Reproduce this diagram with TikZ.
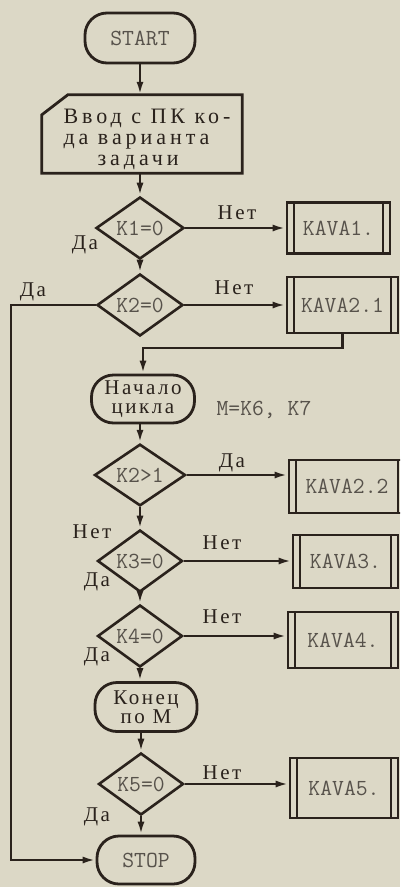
\documentclass[tikz,border=0pt]{standalone}
\usepackage{fontspec}
\newfontfamily\cyr[LetterSpace=12]{Liberation Serif}
\newfontfamily\cyrwide[LetterSpace=18]{Liberation Serif}
\usetikzlibrary{shapes.geometric,arrows.meta}
\definecolor{paper}{HTML}{DCD8C6}
\definecolor{ink}{HTML}{2A221C}
\definecolor{faint}{HTML}{57524B}
\tikzset{
  every node/.style={font=\ttfamily\fontsize{23}{24}\selectfont, text=ink},
  cyrtext/.style={font=\cyr\fontsize{21}{22}\selectfont},
  term/.style={draw=ink, line width=2.8pt, rounded corners=22pt, inner sep=0pt, align=center},
  decision/.style={diamond, draw=ink, line width=2.6pt, inner sep=0pt, text=faint},
  subproc/.style={draw=ink, line width=2.8pt, inner sep=0pt, text=faint,
    path picture={\draw[ink, line width=1.6pt]
      ([xshift=7pt]path picture bounding box.north west) -- ([xshift=7pt]path picture bounding box.south west)
      ([xshift=-7pt]path picture bounding box.north east) -- ([xshift=-7pt]path picture bounding box.south east);}},
  flow/.style={draw=ink, line width=2.5pt, -{Latex[length=13pt,width=7pt]}},
  lbl/.style={inner sep=0pt, cyrtext},
}
\begin{document}
\begin{tikzpicture}[x=1pt,y=-1pt]
\useasboundingbox (0,0) rectangle (400,887);
\clip (0,0) rectangle (400,887);
\fill[paper] (0,0) rectangle (400,887);

% terminals and input block
\node[term, minimum width=110pt, minimum height=50pt, text=faint] (start) at (140,38) {START};
\node[minimum width=200pt, minimum height=78pt, inner sep=0pt] (inp) at (142,134) {};
\draw[ink, line width=2.8pt] (inp.north east) -- (inp.south east) -- (inp.south west)
  -- ([yshift=-20pt]inp.north west) -- ([xshift=26pt]inp.north west) -- cycle;
\node[font=\cyrwide\fontsize{22}{21}\selectfont, align=left, inner sep=0pt] (inptext) at (147,139)
  {Ввод с ПК ко-\\да варианта\\\hspace*{34pt}задачи};

% decisions
\node[decision, minimum width=88pt, minimum height=50pt] (k1) at (140,228) {K1=0};
\node[decision, minimum width=86pt, minimum height=54pt] (k2) at (140,305) {K2=0};
\node[term, minimum width=103pt, minimum height=48pt, font=\cyr\fontsize{21}{19}\selectfont] (loop) at (143,399) {Начало\\цикла};
\node[decision, minimum width=91pt, minimum height=50pt] (k2g) at (140,475) {K2>1};
\node[decision, minimum width=85pt, minimum height=48pt] (k3) at (140,561) {K3=0};
\node[decision, minimum width=85pt, minimum height=48pt] (k4) at (140,636) {K4=0};
\node[term, minimum width=102pt, minimum height=49pt, font=\cyr\fontsize{21}{19}\selectfont] (loopend) at (146,707) {Конец\\по М};
\node[decision, minimum width=85pt, minimum height=48pt] (k5) at (141,784) {K5=0};
\node[term, minimum width=98pt, minimum height=48pt, text=faint] (stop) at (146,860) {STOP};

% subroutine blocks
\node[subproc, minimum width=103pt, minimum height=51pt] (kava1) at (338.5,228) {KAVA1.};
\node[subproc, minimum width=111pt, minimum height=56pt] (kava21) at (342.5,305) {KAVA2.1};
\node[subproc, minimum width=116pt, minimum height=53pt] (kava22) at (347,486.5) {KAVA2.2};
\node[subproc, minimum width=105pt, minimum height=53pt] (kava3) at (345.5,561.5) {KAVA3.};
\node[subproc, minimum width=110pt, minimum height=56pt] (kava4) at (343,640) {KAVA4.};
\node[subproc, minimum width=108pt, minimum height=60pt] (kava5) at (344,788) {KAVA5.};

% loop parameter note
\node[inner sep=0pt, text=faint] (mnote) at (264,410) {M=K6, K7};

% branch labels
\node[lbl] (n1) at (237,213) {Нет};
\node[lbl] (y1) at (85,245) {Да};
\node[lbl] (n2) at (234,288) {Нет};
\node[lbl] (y2) at (33,292) {Да};
\node[lbl] (y3) at (232,463) {Да};
\node[lbl] (n3) at (92,532) {Нет};
\node[lbl] (n4) at (222,543) {Нет};
\node[lbl] (y4) at (97,582) {Да};
\node[lbl] (n5) at (222,617) {Нет};
\node[lbl] (y5) at (97,657) {Да};
\node[lbl] (n6) at (222,773) {Нет};
\node[lbl] (y6) at (97,817) {Да};

% helper points
\coordinate (byTop) at (11,305);
\coordinate (byBot) at (11,860);
\coordinate (retL) at (143,348);

% main flow
\draw[flow] (start.south) -- (start.south |- inp.north);
\draw[flow] (k1.north |- inp.south) -- (k1.north);
\draw[flow] (k1.south) -- (k2.north);
\draw[flow] (kava21.south) -- (kava21.south |- retL) -- (retL) -- (loop.north);
\draw[flow] (k2g.north |- loop.south) -- (k2g.north);
\draw[flow] (k2g.south) -- (k3.north);
\draw[flow] (k3.south) -- (k4.north);
\draw[flow] (k4.south) -- (k4.south |- loopend.north);
\draw[flow] (k5.north |- loopend.south) -- (k5.north);
\draw[flow] (k5.south) -- (k5.south |- stop.north);
\draw[flow] (k2.west) -- (byTop) -- (byBot) -- (stop.west);

% side branches
\draw[flow] (k1.east) -- (kava1.west);
\draw[flow] (k2.east) -- (kava21.west);
\draw[flow] (k2g.east) -- (k2g.east -| kava22.west);
\draw[flow] (k3.east) -- (k3.east -| kava3.west);
\draw[flow] (k4.east) -- (k4.east -| kava4.west);
\draw[flow] (k5.east) -- (k5.east -| kava5.west);
\end{tikzpicture}
\end{document}
